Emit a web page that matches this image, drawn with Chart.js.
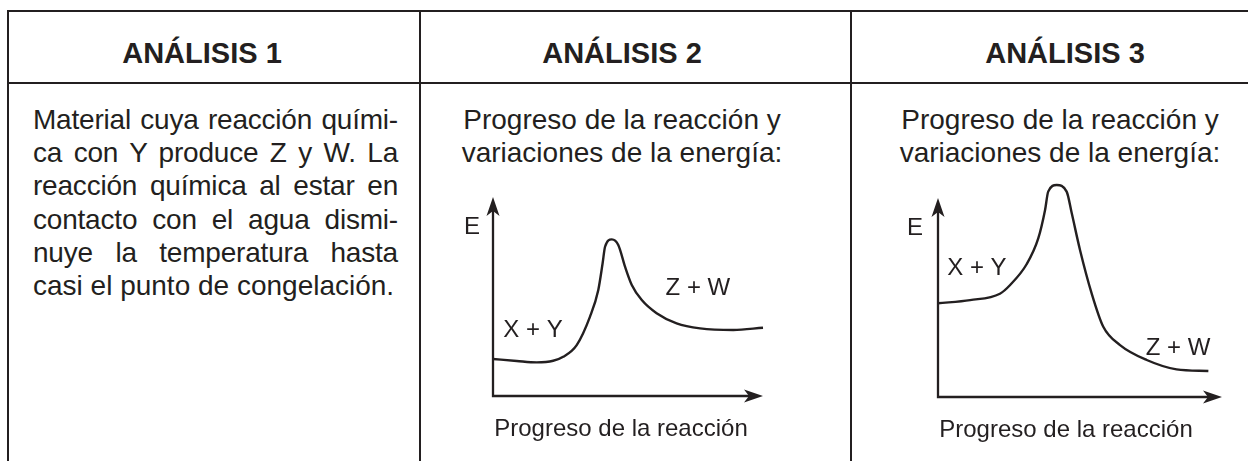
<!DOCTYPE html>
<html>
<head>
<meta charset="utf-8">
<script src="https://cdn.jsdelivr.net/npm/chart.js@4.4.0/dist/chart.umd.min.js"></script>
<style>
body { margin: 0; background: #fff; width: 1248px; height: 461px; overflow: hidden; position: relative;
       font-family: "Liberation Sans", Arial, sans-serif; color: #231f20; }
.ln { position: absolute; background: #231f20; }
.hd { position: absolute; top: 37px; width: 400px; text-align: center; font-weight: bold; font-size: 29px; line-height: 32px; white-space: nowrap; }
.tx { position: absolute; top: 103px; font-size: 28px; line-height: 33.2px; }
.just div { white-space: nowrap; letter-spacing: -0.2px; text-align: justify; text-align-last: justify; }
.just div.last { text-align-last: left; letter-spacing: 0; }
.ctr { width: 400px; text-align: center; white-space: nowrap; }
.plot { position: absolute; }
</style>
</head>
<body>

<!-- table rules -->
<div class="ln" style="left:7px;top:10px;width:1241px;height:2px"></div>
<div class="ln" style="left:7px;top:82px;width:1241px;height:2px"></div>
<div class="ln" style="left:7px;top:10px;width:2px;height:451px"></div>
<div class="ln" style="left:419px;top:10px;width:2px;height:451px"></div>
<div class="ln" style="left:850px;top:10px;width:2px;height:451px"></div>

<div class="hd" style="left:2px">ANÁLISIS 1</div>
<div class="hd" style="left:422px">ANÁLISIS 2</div>
<div class="hd" style="left:865px">ANÁLISIS 3</div>

<div class="tx just" style="left:33px;width:365px">
  <div>Material cuya reacción quími-</div>
  <div>ca con Y produce Z y W. La</div>
  <div>reacción química al estar en</div>
  <div>contacto con el agua dismi-</div>
  <div>nuye la temperatura hasta</div>
  <div class="last">casi el punto de congelación.</div>
</div>
<div class="tx ctr" style="left:422px">Progreso de la reacción y<br>variaciones de la energía:</div>
<div class="tx ctr" style="left:860px">Progreso de la reacción y<br>variaciones de la energía:</div>

<div class="plot" style="left:455px;top:180px"><canvas id="chart2" width="330" height="270"></canvas></div>
<div class="plot" style="left:900px;top:170px"><canvas id="chart3" width="348" height="280"></canvas></div>

<script>
// Análisis 2: reaction progress vs energy (0-100 units)
var progress2 = [0, 8.8, 16.2, 22.3, 26.0, 31.0, 35.9, 39.0, 40.6, 41.5, 44.0, 46.4, 48.9, 51.4, 55.1, 60.6, 68.0, 76.7, 89.0, 100];
var energy2   = [18.6, 17.6, 16.9, 17.7, 19.7, 25.6, 39.8, 53.3, 66.7, 75.0, 78.7, 75.9, 65.0, 55.8, 48.2, 41.6, 36.5, 34.0, 33.2, 34.3];

// Análisis 3
var progress3 = [0, 11.3, 21.8, 25.4, 31.2, 35.3, 37.7, 38.8, 41.8, 45.3, 47.1, 50.0, 54.1, 58.2, 64.1, 73.5, 84.0, 95.2];
var energy3   = [47.1, 48.7, 51.9, 56.3, 66.7, 79.7, 94.0, 103.2, 106.5, 103.2, 92.3, 73.9, 52.1, 35.3, 26.1, 18.6, 13.9, 13.1];

var axisTitle = 'Progreso de la reacción';
var ink = '#231f20';

function toPoints(xs, ys) {
    return xs.map(function (v, i) { return {x: v, y: ys[i]}; });
}

// stealth style arrow head, tip at (x, y) pointing along (dx, dy)
function arrowHead(ctx, x, y, dx, dy) {
    var len = 19, half = 6.5, notch = 5;
    var px = -dy, py = dx;
    ctx.beginPath();
    ctx.moveTo(x, y);
    ctx.lineTo(x - dx * len + px * half, y - dy * len + py * half);
    ctx.lineTo(x - dx * (len - notch), y - dy * (len - notch));
    ctx.lineTo(x - dx * len - px * half, y - dy * len - py * half);
    ctx.closePath();
    ctx.fill();
}

var arrowAxes = {
    id: 'arrowAxes',
    afterDatasetsDraw: function (chart, args, opts) {
        var ctx = chart.ctx, a = chart.chartArea;
        var xs = chart.scales.x, ys = chart.scales.y;
        ctx.save();
        ctx.strokeStyle = ink;
        ctx.fillStyle = ink;
        ctx.lineWidth = 2.3;
        ctx.beginPath();
        ctx.moveTo(a.left, a.top + 12);
        ctx.lineTo(a.left, a.bottom);
        ctx.lineTo(a.right - 12, a.bottom);
        ctx.stroke();
        arrowHead(ctx, a.left, a.top, 0, -1);
        arrowHead(ctx, a.right, a.bottom, 1, 0);

        ctx.font = '24px "Liberation Sans", Arial, sans-serif';
        ctx.textAlign = 'center';
        ctx.textBaseline = 'middle';
        opts.labels.forEach(function (l) {
            ctx.fillText(l.text, xs.getPixelForValue(l.x), ys.getPixelForValue(l.y));
        });
        ctx.fillText(axisTitle, a.left + 128, a.bottom + 33);
        ctx.restore();
    }
};

function energyChart(id, xs, ys, padding, labels) {
    var ctx = document.getElementById(id).getContext('2d');
    return new Chart(ctx, {
        type: 'scatter',
        data: {
            datasets: [{
                data: toPoints(xs, ys),
                showLine: true,
                borderColor: ink,
                borderWidth: 2.4,
                pointRadius: 0,
                cubicInterpolationMode: 'monotone',
                clip: false
            }]
        },
        options: {
            responsive: false,
            animation: false,
            layout: {padding: padding},
            scales: {
                x: {type: 'linear', min: 0, max: 100, display: false},
                y: {type: 'linear', min: 0, max: 100, display: false}
            },
            plugins: {
                legend: {display: false},
                tooltip: {enabled: false},
                arrowAxes: {labels: labels}
            }
        },
        plugins: [arrowAxes]
    });
}

energyChart('chart2', progress2, energy2,
    {left: 38, right: 22, top: 17, bottom: 54},
    [{text: 'E', x: -7.8, y: 84.9}, {text: 'X + Y', x: 14.8, y: 33.2}, {text: 'Z + W', x: 75.9, y: 54.3}]);

energyChart('chart3', progress3, energy3,
    {left: 38, right: 26, top: 28, bottom: 53},
    [{text: 'E', x: -8.1, y: 84.9}, {text: 'X + Y', x: 13.7, y: 64.8}, {text: 'Z + W', x: 84.5, y: 24.6}]);
</script>
</body>
</html>
